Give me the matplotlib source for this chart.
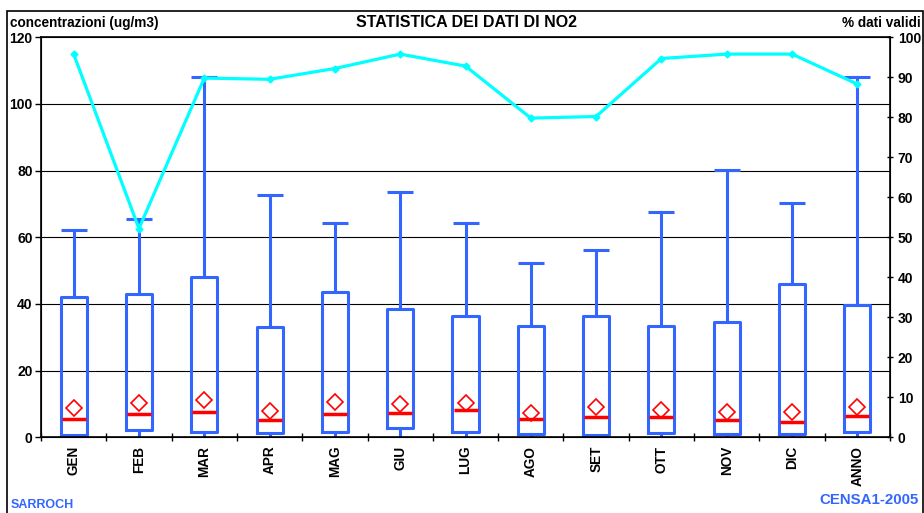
import numpy as np
import matplotlib
matplotlib.use('Agg')
import matplotlib.pyplot as plt
from matplotlib.patches import Rectangle

plt.rcParams['font.family'] = ['Liberation Sans', 'DejaVu Sans']
plt.rcParams['font.weight'] = 'bold'

# monthly NO2 statistics (ug/m3)
mesi = ['GEN', 'FEB', 'MAR', 'APR', 'MAG', 'GIU', 'LUG', 'AGO', 'SET', 'OTT', 'NOV', 'DIC', 'ANNO']
minimi = [0.2, 0.5, 0.2, 0.3, 0.3, 0.4, 0.3, 0.2, 0.2, 0.3, 0.3, 0.2, 0.2]
q1 = [0.7, 2.1, 1.7, 1.4, 1.7, 2.9, 1.7, 1.1, 0.7, 1.4, 1.1, 1.1, 1.5]
mediane = [5.6, 7.0, 7.7, 5.2, 7.0, 7.4, 8.2, 5.6, 6.1, 6.1, 5.2, 4.6, 6.4]
q3 = [42.0, 43.0, 48.0, 33.2, 43.6, 38.5, 36.4, 33.4, 36.4, 33.4, 34.6, 46.0, 39.6]
massimi = [62.2, 65.4, 108.0, 72.7, 64.4, 73.7, 64.4, 52.4, 56.2, 67.6, 80.2, 70.2, 108.0]
medie = [8.7, 10.4, 11.2, 7.9, 10.5, 10.0, 10.4, 7.4, 9.2, 8.2, 7.6, 7.6, 9.2]
# percentuale dati validi
validi = [95.8, 52.2, 89.8, 89.5, 92.2, 95.8, 92.8, 79.8, 80.2, 94.7, 95.8, 95.8, 88.3]

blu = '#3366ff'
W, H = 924, 513
fig = plt.figure(figsize=(W / 100, H / 100), dpi=100)
ax = fig.add_axes([41 / W, 1 - 437.3 / H, (890 - 41) / W, 400 / H])

x = np.arange(len(mesi))
stats = []
for i in range(len(mesi)):
    stats.append(dict(whislo=minimi[i], q1=q1[i], med=mediane[i], q3=q3[i],
                      whishi=massimi[i], label=mesi[i]))
ax.bxp(stats, positions=x, widths=0.4, showcaps=False, showfliers=False,
       boxprops=dict(color=blu, linewidth=2.2),
       whiskerprops=dict(color=blu, linewidth=2.2),
       medianprops=dict(linewidth=0))
ax.plot(x, massimi, ls='none', marker='_', ms=19, mew=2.2, color=blu)
ax.plot(x, mediane, ls='none', marker='_', ms=17, mew=2.5, color='red')
ax.plot(x, medie, ls='none', marker='D', ms=8, mfc='none', mec='red', mew=1.2)

ax.set_xlim(-0.5, len(mesi) - 0.5)
ax.set_ylim(0, 120)
ax.set_yticks(np.arange(0, 121, 20))
for v in range(20, 101, 20):
    ax.axhline(v, color='black', lw=0.8, zorder=0)
ax.set_xticks(x)
ax.set_xticklabels(mesi, rotation=90, fontsize=9.8, fontweight='bold')
ax.tick_params(axis='x', which='major', length=0, pad=6)
ax.set_xticks(np.arange(-0.5, len(mesi)), minor=True)
ax.tick_params(axis='x', which='minor', length=6, direction='inout', width=1)
ax.tick_params(axis='y', labelsize=10, length=4, width=1, pad=2)
for lab in ax.get_yticklabels():
    lab.set_fontweight('bold')
for s in ax.spines.values():
    s.set_linewidth(1.2)

ax2 = ax.twinx()
ax2.plot(x, validi, color='#00ffff', lw=2.3, marker='D', ms=3.5)
ax2.set_ylim(0, 100)
ax2.set_yticks(np.arange(0, 101, 10))
ax2.tick_params(axis='y', labelsize=10, length=5, width=1, direction='inout', pad=3)
for lab in ax2.get_yticklabels():
    lab.set_fontweight('bold')

fig.text(10 / W, 1 - 23 / H, 'concentrazioni (ug/m3)', fontsize=9.8, fontweight='bold', va='center')
fig.text(467 / W, 1 - 23 / H, 'STATISTICA DEI DATI DI NO2', fontsize=11.5, fontweight='bold',
         ha='center', va='center')
fig.text(921 / W, 1 - 23 / H, '% dati validi', fontsize=9.8, fontweight='bold', ha='right', va='center')
fig.text(11 / W, 1 - 505.5 / H, 'SARROCH', fontsize=9, fontweight='bold', color=blu, va='center')
fig.text(919 / W, 1 - 500.5 / H, 'CENSA1-2005', fontsize=10.8, fontweight='bold', color=blu,
         ha='right', va='center')

fig.patches.append(Rectangle((7 / W, -0.02), (922.5 - 7) / W, 1 - 10.7 / H + 0.02,
                             transform=fig.transFigure, fill=False, lw=1.2, ec='black'))

fig.savefig('out.png', dpi=100)
